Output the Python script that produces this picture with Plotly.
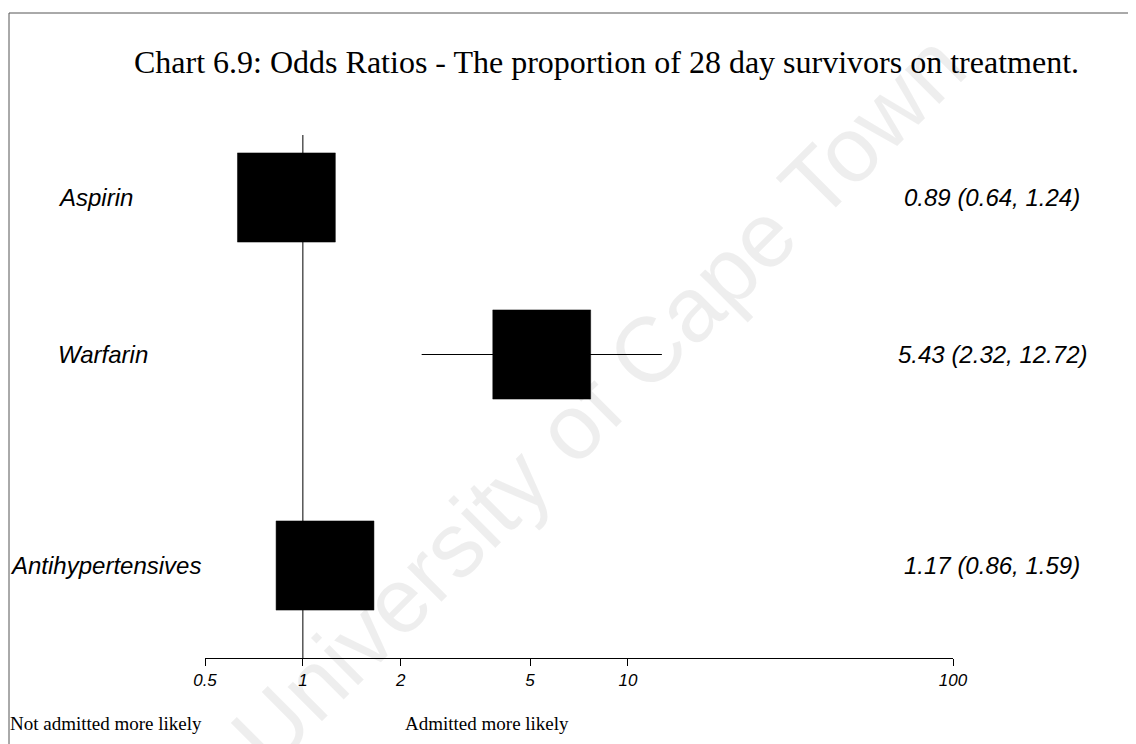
import math
import plotly.graph_objects as go

# ---- data ----
treatments = ["Aspirin", "Warfarin", "Antihypertensives"]
odds_ratio = [0.89, 5.43, 1.17]
ci_low = [0.64, 2.32, 0.86]
ci_high = [1.24, 12.72, 1.59]
tick_values = [0.5, 1, 2, 5, 10, 100]
tick_labels = ["0.5", "1", "2", "5", "10", "100"]

title_text = "Chart 6.9: Odds Ratios - The proportion of 28 day survivors on treatment."
left_note = "Not admitted more likely"
right_note = "Admitted more likely"
watermark = "University of Cape Town"

# ---- layout constants ----
OFF = 8                               # page body margin in the browser
W, H = 1136 - OFF, 744 - OFF
ML, MR, MT, MB = 197, 183, 0, 86
PW, PH = W - ML - MR, H - MT - MB
row_pos = [1.0, 2.0, 3.344]           # vertical row positions (axis units)
Y_TOP, Y_BOT = -0.207, 3.933          # y-axis range (reversed)
half_h = 0.284                        # half square height in axis units
half_w_factor = math.sqrt(2)          # square half width as multiplicative factor
label_left_px = [56, 56, 8]


def paper_x(px):
    return (px - OFF - ML) / PW


def paper_y(py):
    return (H - MB - (py - OFF)) / PH


fig = go.Figure()

# vertical reference line at OR = 1
fig.add_trace(go.Scatter(x=[1, 1], y=[0.602, Y_BOT], mode="lines",
                         line=dict(color="black", width=1), hoverinfo="skip",
                         showlegend=False))

for name, orv, lo, hi, ry in zip(treatments, odds_ratio, ci_low, ci_high, row_pos):
    # confidence interval
    fig.add_trace(go.Scatter(x=[lo, hi], y=[ry, ry], mode="lines",
                             line=dict(color="black", width=1), hoverinfo="skip",
                             showlegend=False))
    # square
    x0, x1 = orv / half_w_factor, orv * half_w_factor
    fig.add_trace(go.Scatter(x=[x0, x1, x1, x0, x0],
                             y=[ry - half_h, ry - half_h, ry + half_h, ry + half_h, ry - half_h],
                             mode="lines", fill="toself", fillcolor="black",
                             line=dict(color="black", width=0.5), name=name,
                             showlegend=False))

annotations = []
sans = "Liberation Sans, Arial, sans-serif"
sans_it = dict(family=sans, size=24, color="black", style="italic")
for name, orv, lo, hi, ry, lx in zip(treatments, odds_ratio, ci_low, ci_high, row_pos, label_left_px):
    annotations.append(dict(text=name, xref="paper", yref="y", x=paper_x(lx), y=ry,
                            xanchor="left", yanchor="middle", showarrow=False, font=sans_it))
    annotations.append(dict(text=f"{orv:.2f} ({lo:.2f}, {hi:.2f})", xref="paper", yref="y",
                            x=paper_x(992), y=ry, xanchor="center", yanchor="middle",
                            showarrow=False, font=sans_it))

serif = "Liberation Serif, Times New Roman, serif"
annotations.append(dict(text=title_text, xref="paper", yref="paper", x=paper_x(606), y=paper_y(62),
                        xanchor="center", yanchor="middle", showarrow=False,
                        font=dict(family=serif, size=32, color="black")))
annotations.append(dict(text=left_note, xref="paper", yref="paper", x=paper_x(8), y=paper_y(723),
                        xanchor="left", yanchor="middle", showarrow=False,
                        font=dict(family=serif, size=19, color="black")))
annotations.append(dict(text=right_note, xref="paper", yref="paper", x=paper_x(403), y=paper_y(723),
                        xanchor="left", yanchor="middle", showarrow=False,
                        font=dict(family=serif, size=19, color="black")))
annotations.append(dict(text=watermark, xref="paper", yref="paper", x=paper_x(598), y=paper_y(400),
                        xanchor="center", yanchor="middle", showarrow=False, textangle=-45,
                        font=dict(family=sans, size=92, color="rgba(0,0,0,0.065)")))

shapes = [
    dict(type="line", xref="paper", yref="paper", x0=paper_x(9), x1=paper_x(1136), y0=paper_y(13), y1=paper_y(13),
         line=dict(color="#555555", width=1)),
    dict(type="line", xref="paper", yref="paper", x0=paper_x(9), x1=paper_x(9), y0=paper_y(13), y1=paper_y(744),
         line=dict(color="#555555", width=1)),
]

fig.update_layout(
    width=W, height=H,
    margin=dict(l=ML, r=MR, t=MT, b=MB),
    paper_bgcolor="white", plot_bgcolor="white",
    showlegend=False,
    annotations=annotations,
    shapes=shapes,
    xaxis=dict(type="log", range=[math.log10(0.5), 2], showgrid=False, zeroline=False,
               showline=True, linecolor="black", linewidth=1,
               ticks="outside", ticklen=7, tickwidth=1, tickcolor="black",
               tickvals=tick_values, ticktext=tick_labels,
               tickfont=dict(family=sans, size=17, color="black", style="italic"),
               fixedrange=True),
    yaxis=dict(range=[Y_BOT, Y_TOP], visible=False, showgrid=False, zeroline=False,
               fixedrange=True),
)

fig.write_html("out.html")
